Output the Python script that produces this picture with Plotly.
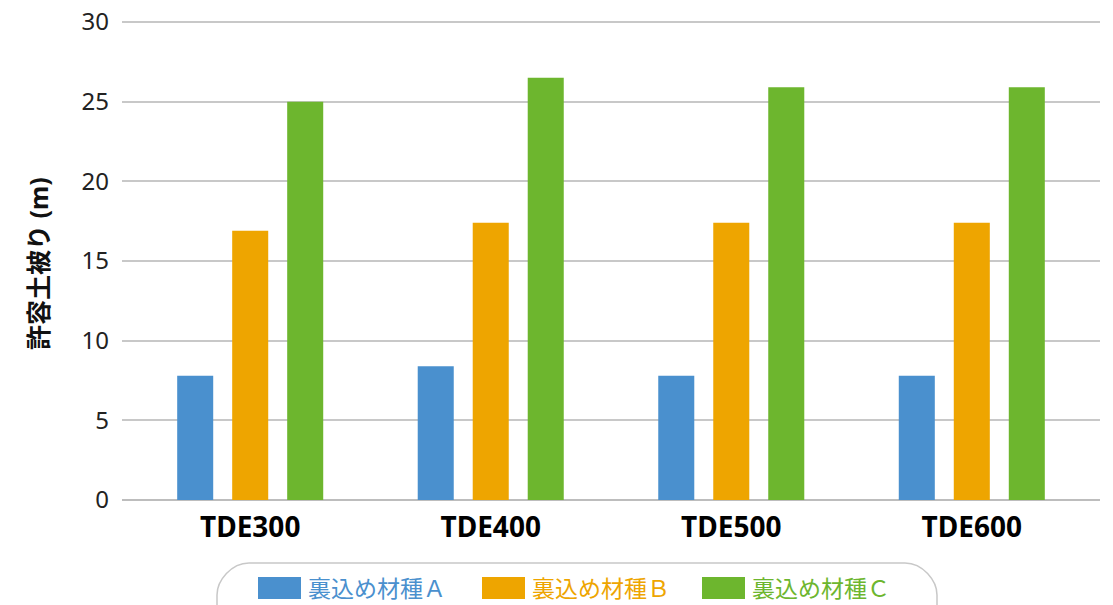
import plotly.graph_objects as go

categories = ["TDE300", "TDE400", "TDE500", "TDE600"]
series_names = ["裏込め材種Ａ", "裏込め材種Ｂ", "裏込め材種Ｃ"]
material_a = [7.8, 8.4, 7.8, 7.8]
material_b = [16.9, 17.4, 17.4, 17.4]
material_c = [25.0, 26.5, 25.9, 25.9]
colors = ["#4A90CE", "#EEA500", "#6DB62E"]
y_ticks = [0, 5, 10, 15, 20, 25, 30]

W, H = 1113, 605
L, R, T, B = 122, 13, 17, 105
PW, PH = W - L - R, H - T - B
Y_TOP = 30 * PH / 478.0


def px(x):
    return (x - L) / PW


def py(y):
    return (H - B - y) / PH


fig = go.Figure()
for name, vals, col in zip(series_names, [material_a, material_b, material_c], colors):
    fig.add_trace(go.Bar(x=categories, y=vals, name=name, marker_color=col,
                         marker_line_width=0, showlegend=False))

font = "Noto Sans, Noto Sans CJK JP"

shapes = []
# rounded legend box
lx0, lx1, ly0, ly1, r = 217, 937, 563, 640, 32
path = (f"M {px(lx0 + r)},{py(ly0)} L {px(lx1 - r)},{py(ly0)} "
        f"C {px(lx1 - r * 0.45)},{py(ly0)} {px(lx1)},{py(ly0 + r * 0.55)} {px(lx1)},{py(ly0 + r)} "
        f"L {px(lx1)},{py(ly1 - r)} "
        f"C {px(lx1)},{py(ly1 - r * 0.45)} {px(lx1 - r * 0.45)},{py(ly1)} {px(lx1 - r)},{py(ly1)} "
        f"L {px(lx0 + r)},{py(ly1)} "
        f"C {px(lx0 + r * 0.45)},{py(ly1)} {px(lx0)},{py(ly1 - r * 0.45)} {px(lx0)},{py(ly1 - r)} "
        f"L {px(lx0)},{py(ly0 + r)} "
        f"C {px(lx0)},{py(ly0 + r * 0.55)} {px(lx0 + r * 0.45)},{py(ly0)} {px(lx0 + r)},{py(ly0)} Z")
shapes.append(dict(type="path", xref="paper", yref="paper", path=path,
                   line=dict(color="#C8C8C8", width=1.5), fillcolor="rgba(0,0,0,0)"))

annotations = []
legend_x = [258, 482, 702]
for name, col, x0 in zip(series_names, colors, legend_x):
    shapes.append(dict(type="rect", xref="paper", yref="paper",
                       x0=px(x0), x1=px(x0 + 43), y0=py(577), y1=py(599),
                       fillcolor=col, line_width=0))
    annotations.append(dict(xref="paper", yref="paper", x=px(x0 + 48), y=py(588),
                            xanchor="left", yanchor="middle", showarrow=False,
                            text=name, font=dict(family=font, size=23, color=col)))

annotations.append(dict(xref="paper", yref="paper", x=px(38), y=py(264),
                        xanchor="center", yanchor="middle", showarrow=False, textangle=-90,
                        text="<b>許容土被り (m)</b>",
                        font=dict(family=font, size=25, color="#111111")))

fig.update_layout(
    width=W, height=H,
    margin=dict(l=L, r=R, t=T, b=B, autoexpand=False),
    plot_bgcolor="white", paper_bgcolor="white",
    barmode="group", bargap=0.314, bargroupgap=0.345,
    shapes=shapes, annotations=annotations,
    xaxis=dict(range=[-0.533, 3.533], showgrid=False, zeroline=False,
               showline=False, ticks="", automargin=False,
               tickmode="array", tickvals=categories,
               ticktext=[f"<b>{c}</b>" for c in categories],
               tickfont=dict(family=font, size=28, color="#000000"),
               ticklabelstandoff=8),
    yaxis=dict(range=[0, Y_TOP], tickvals=y_ticks, showgrid=True, automargin=False,
               gridcolor="#C8C8C8", gridwidth=1.5,
               zeroline=True, zerolinecolor="#BDBDBD", zerolinewidth=1.5,
               showline=False, ticks="",
               tickfont=dict(family=font, size=24, color="#222222"),
               ticklabelstandoff=12),
    showlegend=False,
)

fig.write_html("out.html")
